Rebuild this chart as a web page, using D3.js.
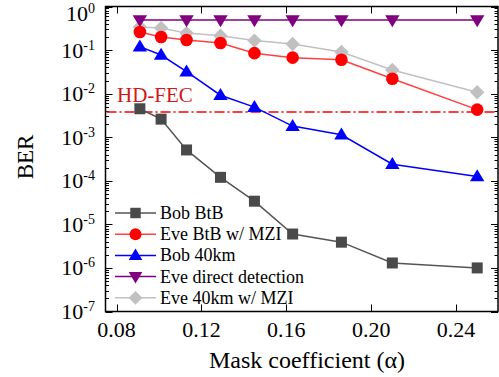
<!DOCTYPE html>
<html>
<head>
<meta charset="utf-8">
<script src="https://cdn.jsdelivr.net/npm/d3@7"></script>
<style>
  html, body { margin: 0; padding: 0; background: #fff; }
</style>
</head>
<body>
<svg id="chart" width="499" height="377" font-family="'Liberation Serif', 'Times New Roman', Times, serif"></svg>
<script>
// Mask coefficient values (x) for each measured series
const alphaAll = [0.091, 0.101, 0.113, 0.129, 0.145, 0.163, 0.186, 0.210, 0.250];
const alphaDirect = [0.091, 0.113, 0.129, 0.145, 0.163, 0.186, 0.210, 0.250];

// BER values
const bobBtB = [4.5e-3, 2.6e-3, 5.1e-4, 1.2e-4, 3.4e-5, 6.0e-6, 3.9e-6, 1.3e-6, 1.0e-6];
const eveBtBMZI = [0.26, 0.20, 0.17, 0.145, 0.085, 0.067, 0.06, 0.022, 0.0043];
const bob40km = [0.12, 0.077, 0.032, 0.0092, 0.0049, 0.0018, 0.00114, 0.00024, 0.000125];
const eveDirect = [0.49, 0.49, 0.49, 0.49, 0.49, 0.49, 0.49, 0.49];
const eve40kmMZI = [0.34, 0.32, 0.245, 0.213, 0.165, 0.138, 0.09, 0.035, 0.0108];

const hdFec = 3.8e-3;

const xTicks = [0.08, 0.12, 0.16, 0.20, 0.24];
const yTickExps = [0, -1, -2, -3, -4, -5, -6, -7];

const series = [
  { name: "Bob BtB", x: alphaAll, y: bobBtB, color: "#4a4a4a", line: "#555555", shape: "square" },
  { name: "Eve BtB w/ MZI", x: alphaAll, y: eveBtBMZI, color: "#ff0000", line: "#ff4040", shape: "circle" },
  { name: "Bob 40km", x: alphaAll, y: bob40km, color: "#0000ff", line: "#0000ff", shape: "triangle" },
  { name: "Eve direct detection", x: alphaDirect, y: eveDirect, color: "#800080", line: "#800080", shape: "triangleDown" },
  { name: "Eve 40km w/ MZI", x: alphaAll, y: eve40kmMZI, color: "#c0c0c0", line: "#c0c0c0", shape: "diamond" }
];

const svg = d3.select("#chart");
const margin = { left: 105.5, right: 498, top: 6.5, bottom: 311.5 };

const x = d3.scaleLinear().domain([0.0748, 0.2598]).range([margin.left, margin.right]);
const y = d3.scaleLog().domain([1e-7, 1]).range([margin.bottom, margin.top]);

// Frame
svg.append("rect")
  .attr("x", margin.left).attr("y", margin.top)
  .attr("width", margin.right - margin.left)
  .attr("height", margin.bottom - margin.top)
  .attr("fill", "none").attr("stroke", "#000").attr("stroke-width", 1.5);

// Y minor/major ticks (inward on left and right)
const yMinor = [];
for (let e = -7; e < 0; e++) for (let m = 2; m <= 9; m++) yMinor.push(m * Math.pow(10, e));
const yMajor = yTickExps.map(e => Math.pow(10, e));

const tickG = svg.append("g").attr("stroke", "#000").attr("stroke-width", 1);
yMinor.forEach(v => {
  const yy = Math.round(y(v)) + 0.5;
  tickG.append("line").attr("x1", margin.left).attr("x2", margin.left + 3.5).attr("y1", yy).attr("y2", yy);
  tickG.append("line").attr("x1", margin.right).attr("x2", margin.right - 3.5).attr("y1", yy).attr("y2", yy);
});
yMajor.forEach(v => {
  const yy = Math.round(y(v)) + 0.5;
  tickG.append("line").attr("x1", margin.left).attr("x2", margin.left + 7).attr("y1", yy).attr("y2", yy);
  tickG.append("line").attr("x1", margin.right).attr("x2", margin.right - 7).attr("y1", yy).attr("y2", yy);
});
xTicks.forEach(v => {
  const xx = Math.round(x(v)) + 0.5;
  tickG.append("line").attr("x1", xx).attr("x2", xx).attr("y1", margin.bottom).attr("y2", margin.bottom - 7);
  tickG.append("line").attr("x1", xx).attr("x2", xx).attr("y1", margin.top).attr("y2", margin.top + 7);
});

// Y tick labels 10^n (the top one sits lower so it stays inside the page)
yTickExps.forEach(e => {
  const ty = Math.max(y(Math.pow(10, e)) + 7.5, 21);
  const t = svg.append("text")
    .attr("x", 95).attr("y", ty)
    .attr("text-anchor", "end")
    .attr("font-size", 22).attr("fill", "#000");
  t.append("tspan").text("10");
  t.append("tspan").attr("dy", -8).attr("font-size", 14).text(String(e));
});

// X tick labels
xTicks.forEach(v => {
  svg.append("text")
    .attr("x", x(v)).attr("y", 337)
    .attr("text-anchor", "middle")
    .attr("font-size", 22).attr("fill", "#000")
    .text(d3.format(".2f")(v));
});

// Axis titles
svg.append("text")
  .attr("x", 307).attr("y", 368)
  .attr("text-anchor", "middle")
  .attr("font-size", 24).attr("fill", "#000")
  .text("Mask coefficient (α)");

svg.append("text")
  .attr("transform", "translate(33,157) rotate(-90)")
  .attr("text-anchor", "middle")
  .attr("font-size", 23).attr("fill", "#000")
  .text("BER");

// HD-FEC threshold
svg.append("line")
  .attr("x1", margin.left + 1).attr("x2", margin.right - 1)
  .attr("y1", y(hdFec)).attr("y2", y(hdFec))
  .attr("stroke", "#ff0000").attr("stroke-width", 1.5)
  .attr("stroke-dasharray", "10,3,2,3");
svg.append("text")
  .attr("x", 117).attr("y", 102)
  .attr("font-size", 21).attr("fill", "#d01818")
  .text("HD-FEC");

// Marker drawing
function marker(g, shape, cx, cy, color, s) {
  const k = s || 1;
  if (shape === "square") {
    g.append("rect").attr("x", cx - 5.5 * k).attr("y", cy - 5.5 * k)
      .attr("width", 11 * k).attr("height", 11 * k).attr("fill", color);
  } else if (shape === "circle") {
    g.append("circle").attr("cx", cx).attr("cy", cy).attr("r", 6.3 * k).attr("fill", color);
  } else if (shape === "triangle") {
    const w = 7.2 * k, h = 12 * k;
    g.append("path").attr("d", `M${cx},${cy - h * 0.6}L${cx + w},${cy + h * 0.4}L${cx - w},${cy + h * 0.4}Z`).attr("fill", color);
  } else if (shape === "triangleDown") {
    const w = 7.2 * k, h = 12 * k;
    g.append("path").attr("d", `M${cx},${cy + h * 0.6}L${cx + w},${cy - h * 0.4}L${cx - w},${cy - h * 0.4}Z`).attr("fill", color);
  } else if (shape === "diamond") {
    const r = 7.2 * k;
    g.append("path").attr("d", `M${cx},${cy - r}L${cx + r},${cy}L${cx},${cy + r}L${cx - r},${cy}Z`).attr("fill", color);
  }
}

const line = d3.line().x(d => x(d[0])).y(d => y(d[1]));

// Draw in back-to-front order
const drawOrder = [4, 3, 1, 2, 0];
drawOrder.forEach(i => {
  const s = series[i];
  const pts = s.x.map((v, j) => [v, s.y[j]]);
  const g = svg.append("g");
  g.append("path").datum(pts).attr("d", line)
    .attr("fill", "none").attr("stroke", s.line).attr("stroke-width", 1.5);
  pts.forEach(p => marker(g, s.shape, x(p[0]), y(p[1]), s.color));
});

// Legend
const legend = svg.append("g");
series.forEach((s, i) => {
  const yy = 213 + i * 21.2;
  legend.append("line").attr("x1", 115).attr("x2", 156).attr("y1", yy).attr("y2", yy)
    .attr("stroke", s.line).attr("stroke-width", 1.5);
  marker(legend, s.shape, 135.5, yy, s.color, 0.95);
  legend.append("text").attr("x", 160).attr("y", yy + 6)
    .attr("font-size", 18).attr("fill", "#000").text(s.name);
});
</script>
</body>
</html>
